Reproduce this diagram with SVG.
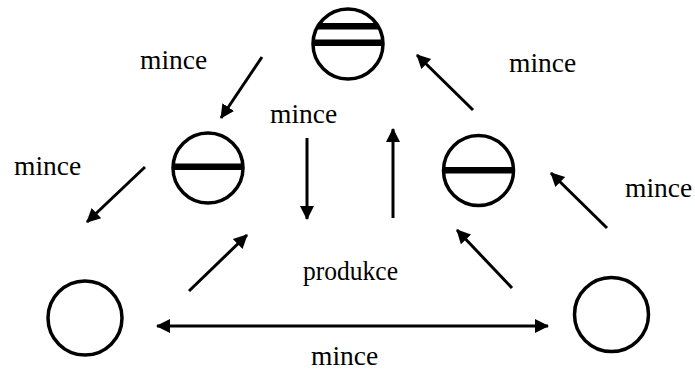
<svg xmlns="http://www.w3.org/2000/svg" width="695" height="373" viewBox="0 0 695 373">
  <style>
    .coin { fill: #fff; stroke: #000; stroke-width: 3.5; }
    .bar { fill: #000; }
    .conn { stroke: #000; stroke-width: 3; fill: none; }
    .lbl { font-family: "Liberation Serif", "DejaVu Serif", serif; font-size: 27.5px; fill: #000; }
  </style>
  <defs>
    <marker id="head" markerUnits="userSpaceOnUse" markerWidth="16" markerHeight="16" viewBox="0 0 16 16" refX="13" refY="8" orient="auto-start-reverse">
      <path d="M0,1 L14,8 L0,15 Z" fill="#000"/>
    </marker>
    <clipPath id="clipTop"><circle cx="348" cy="44" r="35"/></clipPath>
    <clipPath id="clipLeft"><circle cx="208" cy="168" r="35"/></clipPath>
    <clipPath id="clipRight"><circle cx="478.5" cy="170.5" r="35"/></clipPath>
  </defs>

  <!-- coins -->
  <g id="coin-top">
    <circle class="coin" cx="348" cy="44" r="35"/>
    <g clip-path="url(#clipTop)">
      <rect class="bar" x="310" y="23" width="76" height="6.5"/>
      <rect class="bar" x="310" y="39.5" width="76" height="6.5"/>
    </g>
  </g>
  <g id="coin-left">
    <circle class="coin" cx="208" cy="168" r="35"/>
    <rect class="bar" x="172" y="163.5" width="72" height="6.5" clip-path="url(#clipLeft)"/>
  </g>
  <g id="coin-right">
    <circle class="coin" cx="478.5" cy="170.5" r="35"/>
    <rect class="bar" x="442" y="167" width="73" height="6.5" clip-path="url(#clipRight)"/>
  </g>
  <g id="coin-bottom-left">
    <circle class="coin" cx="85" cy="318" r="37"/>
  </g>
  <g id="coin-bottom-right">
    <circle class="coin" cx="611.5" cy="314.5" r="37"/>
  </g>

  <!-- connectors -->
  <g id="connectors">
    <line class="conn" x1="262" y1="57" x2="221" y2="118" marker-end="url(#head)"/>
    <line class="conn" x1="145" y1="167" x2="87" y2="222" marker-end="url(#head)"/>
    <line class="conn" x1="307" y1="138" x2="307" y2="219" marker-end="url(#head)"/>
    <line class="conn" x1="393" y1="218" x2="393" y2="129" marker-end="url(#head)"/>
    <line class="conn" x1="473" y1="110" x2="417" y2="55" marker-end="url(#head)"/>
    <line class="conn" x1="607" y1="228" x2="551" y2="173" marker-end="url(#head)"/>
    <line class="conn" x1="189" y1="291" x2="247" y2="235" marker-end="url(#head)"/>
    <line class="conn" x1="512" y1="288" x2="457" y2="230" marker-end="url(#head)"/>
    <line class="conn" x1="157" y1="326" x2="548" y2="326" marker-start="url(#head)" marker-end="url(#head)"/>
  </g>

  <!-- labels -->
  <g id="labels" font-family="Liberation Serif, DejaVu Serif, serif">
    <text class="lbl" x="140" y="69">mince</text>
    <text class="lbl" x="14" y="175">mince</text>
    <text class="lbl" x="270" y="123">mince</text>
    <text class="lbl" x="509" y="72">mince</text>
    <text class="lbl" x="625" y="197">mince</text>
    <text class="lbl" x="303" y="280" textLength="95" lengthAdjust="spacingAndGlyphs">produkce</text>
    <text class="lbl" x="311" y="365">mince</text>
  </g>
</svg>
